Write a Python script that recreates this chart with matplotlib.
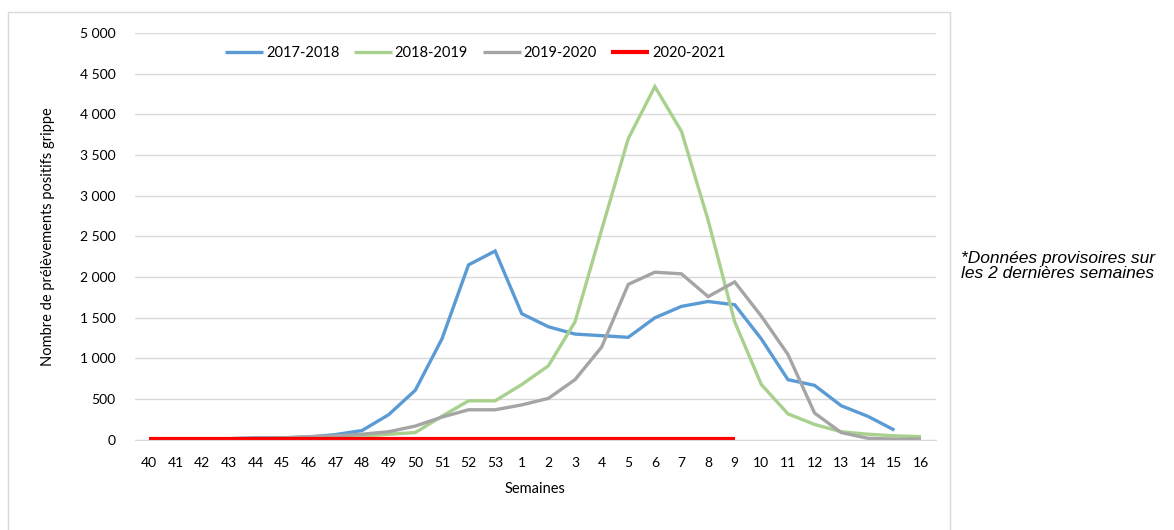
import matplotlib
matplotlib.use('Agg')
from matplotlib import pyplot as plt
from matplotlib.patches import Rectangle
import numpy as np

plt.rcParams['font.family'] = ['Lato', 'DejaVu Sans']

weeks = ['40', '41', '42', '43', '44', '45', '46', '47', '48', '49', '50', '51', '52', '53',
         '1', '2', '3', '4', '5', '6', '7', '8', '9', '10', '11', '12', '13', '14', '15', '16']

s2017 = [5, 5, 10, 15, 25, 25, 35, 65, 115, 310, 610, 1240, 2150, 2320,
         1550, 1390, 1300, 1280, 1260, 1500, 1640, 1700, 1660, 1240, 740, 670, 420, 290, 120]
s2018 = [5, 5, 5, 10, 15, 20, 25, 30, 45, 70, 90, 290, 480, 480,
         680, 910, 1450, 2580, 3700, 4340, 3790, 2700, 1450, 680, 320, 190, 100, 70, 50, 40]
s2019 = [5, 5, 10, 15, 20, 25, 40, 50, 70, 100, 170, 280, 370, 370,
         430, 510, 740, 1140, 1910, 2060, 2040, 1760, 1940, 1520, 1050, 330, 90, 20, 10, 10]
s2020 = [5, 5, 5, 5, 5, 5, 5, 5, 5, 5, 5, 5, 5, 5,
         5, 5, 5, 5, 5, 5, 5, 5, 5]

series = [('2017-2018', s2017, '#5B9BD5', 2.4),
          ('2018-2019', s2018, '#A9D18E', 2.4),
          ('2019-2020', s2019, '#A5A5A5', 2.4),
          ('2020-2021', s2020, '#FF0000', 3.0)]

fig = plt.figure(figsize=(11.74, 5.3), dpi=100)
ax = fig.add_axes([0.115, 0.17, 0.682, 0.768])

for name, vals, col, w in series:
    ax.plot(np.arange(len(vals)), vals, color=col, lw=w, label=name,
            solid_capstyle='butt', solid_joinstyle='miter')

ax.set_xlim(-0.53, 29.55)
ax.set_ylim(0, 5000)
ax.set_yticks(np.arange(0, 5001, 500))
ax.set_yticklabels([f'{v:,}'.replace(',', ' ') for v in range(0, 5001, 500)])
ax.set_xticks(np.arange(len(weeks)))
ax.set_xticklabels(weeks)
ax.grid(axis='y', color='#d9d9d9', lw=1)
ax.set_axisbelow(True)
for sp in ['top', 'right', 'left']:
    ax.spines[sp].set_visible(False)
ax.spines['bottom'].set_color('#d9d9d9')
ax.tick_params(length=0, labelsize=10, colors='#000000')
ax.tick_params(axis='x', pad=12)
ax.tick_params(axis='y', pad=14)

ax.set_xlabel('Semaines', fontsize=10.5, labelpad=10)
ax.set_ylabel('Nombre de prélèvements positifs grippe', fontsize=10.5, labelpad=18)

ax.legend(loc='upper center', bbox_to_anchor=(0.425, 1.0), ncol=4, frameon=False,
          fontsize=10.5, handlelength=2.6, handletextpad=0.2, columnspacing=1.0)

fig.add_artist(Rectangle((8 / 1174, -0.01), 942 / 1174, 1 - 12 / 530 + 0.01,
                         transform=fig.transFigure, fill=False, ec='#d9d9d9', lw=1))

fig.text(961 / 1174, 1 - 266 / 530, '*Données provisoires sur\nles 2 dernières semaines',
         fontsize=12.5, style='italic', va='center', ha='left',
         family=['Liberation Sans', 'DejaVu Sans'], linespacing=1.08)

fig.savefig('out.png', dpi=100)
